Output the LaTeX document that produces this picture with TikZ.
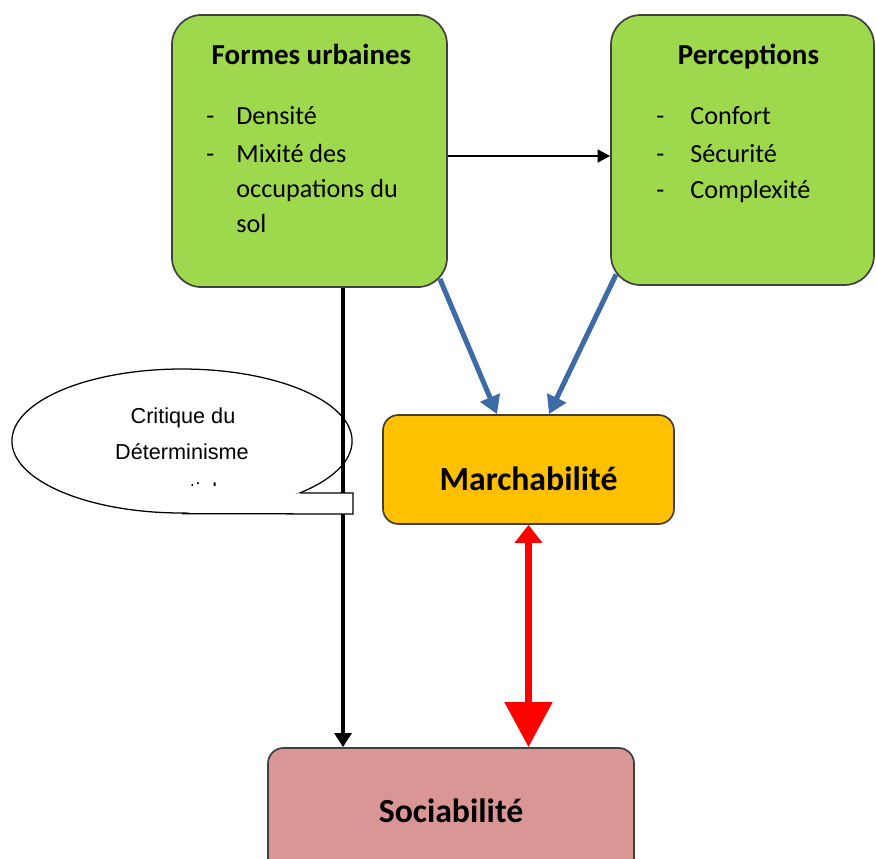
\documentclass[tikz,border=0pt]{standalone}
\usepackage{fontspec}
\setmainfont{Carlito}
\newfontfamily\calloutfont{Liberation Sans}
\usepackage{tikz}
\usetikzlibrary{calc, shapes.geometric, arrows.meta, positioning}
\definecolor{boxgreen}{HTML}{9ED84C}
\definecolor{boxorange}{HTML}{FFC000}
\definecolor{boxpink}{HTML}{D99694}
\definecolor{arrowblue}{HTML}{3D6BA6}
\definecolor{arrowred}{HTML}{FF0000}

\begin{document}
\begin{tikzpicture}[
        x=0.025cm, y=-0.025cm,
        box/.style = {draw=black!75, rectangle, line width=1.2pt, inner sep=0pt},
        greenbox/.style = {box, fill=boxgreen, rounded corners=21pt},
        flatbox/.style = {box, rounded corners=11pt},
        titletext/.style = {anchor=base, font=\fontsize{20.6}{24}\selectfont\bfseries},
        itemtext/.style = {anchor=base west, inner sep=0pt, font=\fontsize{18.6}{22}\selectfont},
        bigtext/.style = {anchor=base, font=\fontsize{24}{28}\selectfont\bfseries},
        callouttext/.style = {anchor=base, font=\calloutfont\fontsize{15.4}{18}\selectfont},
        calloutline/.style = {draw=black, line width=0.9pt},
        blackarrow/.style = {draw=black, line width=2pt, -{Triangle[width=9pt, length=9pt]}},
        downarrow/.style = {draw=black, line width=2.8pt, -{Triangle[width=12pt, length=10pt]}},
        bluearrow/.style = {draw=arrowblue, line width=3.6pt, -{Triangle[width=14.5pt, length=12.8pt]}},
        redarrow/.style = {draw=arrowred, line width=5pt, {Triangle[width=19pt, length=12.8pt]}-{Triangle[width=33pt, length=32pt]}}
    ]
        \clip (0,0) rectangle (876,858);

        % boxes
        \node (formes) [greenbox, minimum width=195.6pt, minimum height=193.5pt] at (309.5,151) {};
        \node (percep) [greenbox, minimum width=187pt, minimum height=192pt] at (742.5,150) {};
        \node (march) [flatbox, fill=boxorange, minimum width=207pt, minimum height=77.5pt] at (528.5,469.5) {};
        \node (socia) [flatbox, fill=boxpink, minimum width=260.3pt, minimum height=92.5pt] at (451,813) {};

        % texts
        \node (formesTitle) [titletext] at ($(formes.north)+(2,50)$) {Formes urbaines};
        \node (fDash1) [itemtext] at ($(formes.north west)+(35,110)$) {-};
        \node (fItem1) [itemtext] at ($(formes.north west)+(65,110)$) {Densité};
        \node (fDash2) [itemtext] at ($(formes.north west)+(35,148)$) {-};
        \node (fItem2) [itemtext] at ($(formes.north west)+(65,148)$) {Mixité des};
        \node (fItem3) [itemtext] at ($(formes.north west)+(65,183)$) {occupations du};
        \node (fItem4) [itemtext] at ($(formes.north west)+(65,218)$) {sol};

        \node (percepTitle) [titletext] at ($(percep.north)+(6,50)$) {Perceptions};
        \node (pDash1) [itemtext] at ($(percep.north west)+(46,110)$) {-};
        \node (pItem1) [itemtext] at ($(percep.north west)+(80,110)$) {Confort};
        \node (pDash2) [itemtext] at ($(percep.north west)+(46,148)$) {-};
        \node (pItem2) [itemtext] at ($(percep.north west)+(80,148)$) {Sécurité};
        \node (pDash3) [itemtext] at ($(percep.north west)+(46,184)$) {-};
        \node (pItem3) [itemtext] at ($(percep.north west)+(80,184)$) {Complexité};

        \node (marchText) [bigtext] at ($(march.center)+(0,20.5)$) {Marchabilité};
        \node (sociaText) [bigtext] at ($(socia.center)+(0,9)$) {Sociabilité};

        % callout
        \node (callout) [ellipse, calloutline, fill=white, minimum width=241.9pt, minimum height=102.4pt] at (182,441) {};
        \node (critique) [callouttext] at (183,423) {Critique du};
        \node (determ) [callouttext] at (182,459) {Déterminisme};
        \begin{scope}
            \clip (0,0) rectangle (876,485);
            \node (spatial) [callouttext] at (186,498) {spatial};
        \end{scope}

        % connectors
        \coordinate (vline) at (343,0);
        \draw [blackarrow] ($(formes.east)+(0,5)$) -- ($(percep.west)+(0,6)$);
        \draw [downarrow] (formes.south -| vline) -- (socia.north -| vline);
        \draw [bluearrow] ($(formes.south east)+(-8,-9)$) -- ($(march.north)+(-31.5,0)$);
        \draw [bluearrow] ($(percep.south west)+(6,-11.5)$) -- ($(march.north)+(20.5,0)$);
        \draw [redarrow] (march.south) -- (march.south |- socia.north);

        % callout tail
        \draw [calloutline, fill=white] ($(callout.center)+(118,52)$) -- ++(53,0) -- ++(0,21) -- (callout.south);
    \end{tikzpicture}
\end{document}
